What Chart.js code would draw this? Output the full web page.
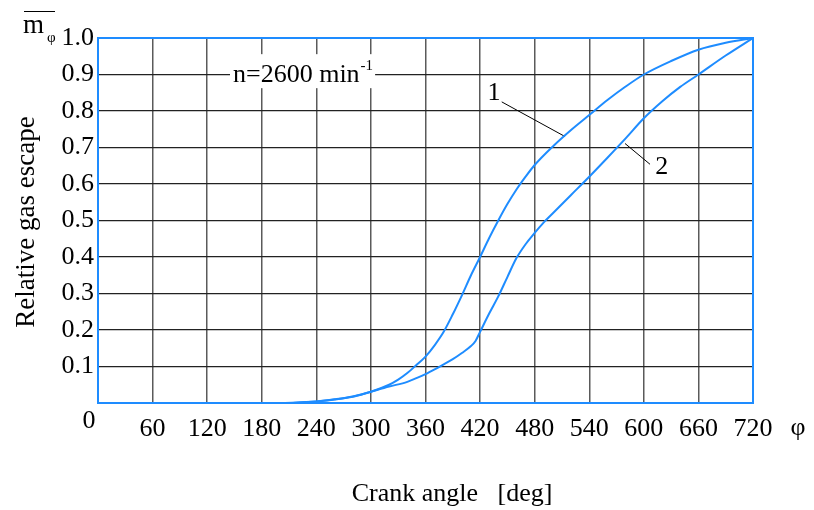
<!DOCTYPE html>
<html>
<head>
<meta charset="utf-8">
<script src="https://cdn.jsdelivr.net/npm/chart.js@4/dist/chart.umd.min.js"></script>
<style>
  html, body { margin: 0; padding: 0; background: #fff; }
  #wrap { width: 814px; height: 510px; }
</style>
</head>
<body>
<div id="wrap"><canvas id="c" width="814" height="510"></canvas></div>
<script>
// ---- data ----
const curve1Angle = [200, 220, 240, 260, 280, 300, 320, 330, 340, 350, 360, 370, 380, 390, 400, 410, 420, 430, 440, 450, 460, 470, 480, 500, 520, 540, 560, 580, 600, 630, 660, 690, 720];
const curve1Value = [0.0, 0.001, 0.004, 0.010, 0.018, 0.031, 0.050, 0.064, 0.082, 0.104, 0.127, 0.158, 0.195, 0.243, 0.295, 0.350, 0.400, 0.452, 0.500, 0.545, 0.585, 0.620, 0.652, 0.703, 0.748, 0.789, 0.830, 0.867, 0.900, 0.937, 0.968, 0.987, 1.0];

const curve2Angle = [200, 240, 280, 300, 320, 340, 350, 360, 370, 380, 390, 400, 410, 415, 420, 430, 440, 450, 460, 470, 480, 490, 500, 520, 540, 560, 580, 600, 620, 640, 660, 690, 720];
const curve2Value = [0.0, 0.004, 0.017, 0.031, 0.045, 0.058, 0.068, 0.079, 0.092, 0.106, 0.120, 0.137, 0.156, 0.170, 0.195, 0.245, 0.292, 0.345, 0.397, 0.435, 0.466, 0.495, 0.520, 0.570, 0.620, 0.672, 0.725, 0.780, 0.826, 0.866, 0.900, 0.952, 1.0];

const xTicks = [0, 60, 120, 180, 240, 300, 360, 420, 480, 540, 600, 660, 720];
const yTicks = [0, 0.1, 0.2, 0.3, 0.4, 0.5, 0.6, 0.7, 0.8, 0.9, 1.0];

const leader1X = [443.8, 513.4];
const leader1Y = [0.825, 0.730];
const leader2X = [579.3, 606.8];
const leader2Y = [0.711, 0.654];

const curveLabels = ['1', '2'];
const curveLabelX = [435.3, 619.6];
const curveLabelY = [0.849, 0.647];

const noteText = 'n=2600 min';
const noteSup = '-1';
const noteX = 148.4;
const noteY = 0.879;

const xTitle = 'Crank angle   [deg]';
const yTitle = 'Relative gas escape';
// --------------------------------------

const BLUE = '#1e8cff';
const FONT = '"Liberation Serif", "Times New Roman", serif';

function pts(xs, ys) { return xs.map((x, i) => ({ x: x, y: ys[i] })); }

const overlay = {
  id: 'overlay',
  beforeDatasetsDraw(chart) {
    const ctx = chart.ctx, xs = chart.scales.x, ys = chart.scales.y;
    ctx.save();
    ctx.font = '26px ' + FONT;
    const px = xs.getPixelForValue(noteX), py = ys.getPixelForValue(noteY);
    const w1 = ctx.measureText(noteText).width;
    ctx.font = '15px ' + FONT;
    const w2 = ctx.measureText(noteSup).width;
    ctx.fillStyle = '#fff';
    ctx.fillRect(px - 3, py - 28, w1 + w2 + 6, 34);
    ctx.fillStyle = '#000';
    ctx.textBaseline = 'alphabetic';
    ctx.font = '26px ' + FONT;
    ctx.fillText(noteText, px, py);
    ctx.font = '15px ' + FONT;
    ctx.fillText(noteSup, px + w1 + 1, py - 12);
    ctx.restore();
  },
  afterDatasetsDraw(chart) {
    const ctx = chart.ctx, a = chart.chartArea, xs = chart.scales.x, ys = chart.scales.y;
    ctx.save();
    ctx.strokeStyle = BLUE;
    ctx.lineWidth = 2;
    ctx.strokeRect(a.left, a.top, a.right - a.left, a.bottom - a.top);
    ctx.fillStyle = '#000';
    ctx.font = '26px ' + FONT;
    ctx.textAlign = 'center';
    ctx.textBaseline = 'middle';
    curveLabels.forEach((t, i) => {
      ctx.fillText(t, xs.getPixelForValue(curveLabelX[i]), ys.getPixelForValue(curveLabelY[i]));
    });
    ctx.fillText('0', a.left - 9, a.bottom + 18);
    ctx.fillText('φ', a.right + 45, a.bottom + 25);
    ctx.font = '26px ' + FONT;
    ctx.fillText(xTitle, 452, 494);
    ctx.save();
    ctx.translate(27, 222);
    ctx.rotate(-Math.PI / 2);
    ctx.font = '27px ' + FONT;
    ctx.fillText(yTitle, 0, 0);
    ctx.restore();
    ctx.textAlign = 'left';
    ctx.textBaseline = 'alphabetic';
    ctx.font = '27px ' + FONT;
    ctx.fillText('m', 23, 33);
    ctx.strokeStyle = '#000';
    ctx.lineWidth = 1;
    ctx.beginPath();
    ctx.moveTo(24, 11.5);
    ctx.lineTo(55, 11.5);
    ctx.stroke();
    ctx.font = '15px ' + FONT;
    ctx.fillText('φ', 47, 42);
    ctx.restore();
  }
};

new Chart(document.getElementById('c'), {
  type: 'line',
  data: {
    datasets: [
      { data: pts(curve1Angle, curve1Value), borderColor: BLUE, borderWidth: 2, pointRadius: 0, cubicInterpolationMode: 'monotone', fill: false },
      { data: pts(curve2Angle, curve2Value), borderColor: BLUE, borderWidth: 2, pointRadius: 0, cubicInterpolationMode: 'monotone', fill: false },
      { data: pts(leader1X, leader1Y), borderColor: '#000', borderWidth: 1, pointRadius: 0, tension: 0 },
      { data: pts(leader2X, leader2Y), borderColor: '#000', borderWidth: 1, pointRadius: 0, tension: 0 }
    ]
  },
  options: {
    responsive: false,
    animation: false,
    events: [],
    layout: { padding: { left: 0, top: 38, right: 61, bottom: 0 } },
    plugins: { legend: { display: false }, tooltip: { enabled: false } },
    scales: {
      x: {
        type: 'linear', min: 0, max: 720,
        afterBuildTicks: s => { s.ticks = xTicks.map(v => ({ value: v })); },
        afterFit: s => { s.height = 107; },
        grid: { color: '#5a5a5a', lineWidth: 1.5, drawTicks: false },
        border: { display: false },
        ticks: {
          padding: 11, color: '#000', maxRotation: 0, autoSkip: false,
          font: { family: FONT, size: 26 },
          callback: v => (v === 0 ? '' : String(v))
        }
      },
      y: {
        type: 'linear', min: 0, max: 1,
        afterBuildTicks: s => { s.ticks = yTicks.map(v => ({ value: v })); },
        afterFit: s => { s.width = 98; },
        grid: { color: '#222', lineWidth: 1.2, drawTicks: false },
        border: { display: false },
        ticks: {
          padding: 4, color: '#000', autoSkip: false,
          font: { family: FONT, size: 26 },
          callback: v => (v === 0 ? '' : v.toFixed(1))
        }
      }
    }
  },
  plugins: [overlay]
});
</script>
</body>
</html>
